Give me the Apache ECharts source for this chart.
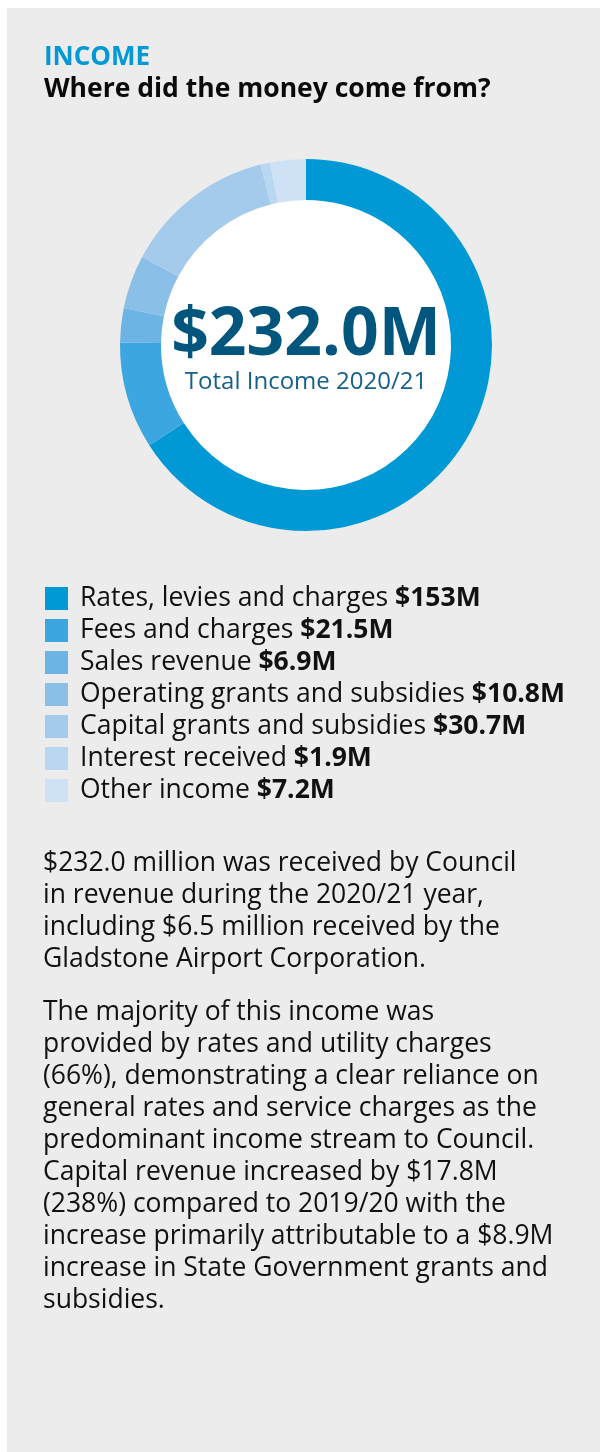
<!DOCTYPE html>
<html>
<head>
<meta charset="utf-8">
<script src="https://cdn.jsdelivr.net/npm/echarts@6/dist/echarts.min.js"></script>
<style>
  html, body { margin: 0; padding: 0; background: #fff; }
  #main { width: 600px; height: 1452px; }
</style>
</head>
<body>
<div id="main"></div>
<script>
const categories = [
  'Rates, levies and charges',
  'Fees and charges',
  'Sales revenue',
  'Operating grants and subsidies',
  'Capital grants and subsidies',
  'Interest received',
  'Other income'
];
const values = [153, 21.5, 6.9, 10.8, 30.7, 1.9, 7.2];
const valueLabels = ['$153M', '$21.5M', '$6.9M', '$10.8M', '$30.7M', '$1.9M', '$7.2M'];
const colors = ['#0098d5', '#3ba6df', '#6cb4e4', '#8abfe8', '#a5cbec', '#b9d7f1', '#cfe1f5'];

const para1 = [
  '$232.0 million was received by Council',
  'in revenue during the 2020/21 year,',
  'including $6.5 million received by the',
  'Gladstone Airport Corporation.'
];
const para2 = [
  'The majority of this income was',
  'provided by rates and utility charges',
  '(66%), demonstrating a clear reliance on',
  'general rates and service charges as the',
  'predominant income stream to Council.',
  'Capital revenue increased by $17.8M',
  '(238%) compared to 2019/20 with the',
  'increase primarily attributable to a $8.9M',
  'increase in State Government grants and',
  'subsidies.'
];

const font = '"Open Sans", "Noto Sans", sans-serif';
const chart = echarts.init(document.getElementById('main'), null, { renderer: 'canvas' });

// 饼图数据
const pieData = categories.map((name, i) => ({
  name: name,
  value: values[i],
  itemStyle: { color: colors[i] }
}));

const option = {
  animation: false,
  textStyle: { fontFamily: font },
  graphic: [
    { type: 'rect', z: -10, shape: { x: 7, y: 8, width: 593, height: 1444 }, style: { fill: '#ebeceb' } },
    { type: 'circle', z: 1, shape: { cx: 306, cy: 345, r: 146 }, style: { fill: '#ffffff' } },
    { type: 'text', z: 5, left: 44, top: 45, style: { text: 'INCOME', fontFamily: font, fontWeight: 'bold', fontSize: 26, fill: '#0098d5' } },
    { type: 'text', z: 5, left: 44, top: 76, style: { text: 'Where did the money come from?', fontFamily: font, fontWeight: 'bold', fontSize: 26.5, fill: '#0a0a0a' } },
    { type: 'text', z: 5, x: 306, y: 336, style: { text: '$232.0M', fontFamily: font, fontWeight: 'bold', fontSize: 66, fill: '#02567e', align: 'center', verticalAlign: 'middle' } },
    { type: 'text', z: 5, x: 306, y: 382, style: { text: 'Total Income 2020/21', fontFamily: font, fontSize: 24, fill: '#17608a', align: 'center', verticalAlign: 'middle' } },
    { type: 'text', z: 5, left: 43, top: 847, style: { text: para1.join('\n'), fontFamily: font, fontSize: 26.5, lineHeight: 32, fill: '#111111' } },
    { type: 'text', z: 5, left: 43, top: 997, style: { text: para2.join('\n'), fontFamily: font, fontSize: 26.5, lineHeight: 31.9, fill: '#111111' } }
  ],
  legend: {
    orient: 'vertical',
    left: 45,
    top: 585,
    icon: 'rect',
    itemWidth: 23,
    itemHeight: 23,
    itemGap: 5,
    padding: 0,
    data: categories,
    formatter: function (name) {
      const i = categories.indexOf(name);
      return '{n|' + name + ' }{v|' + valueLabels[i] + '}';
    },
    textStyle: {
      padding: [0, 0, 0, 7],
      rich: {
        n: { fontFamily: font, fontSize: 26.5, color: '#111111' },
        v: { fontFamily: font, fontSize: 26.5, fontWeight: 'bold', color: '#111111' }
      }
    }
  },
  series: [
    {
      type: 'pie',
      z: 2,
      center: [306, 345],
      radius: [145, 186],
      startAngle: 90,
      clockwise: true,
      label: { show: false },
      labelLine: { show: false },
      itemStyle: { borderWidth: 0 },
      emphasis: { disabled: true },
      data: pieData
    }
  ]
};

chart.setOption(option);
</script>
</body>
</html>
